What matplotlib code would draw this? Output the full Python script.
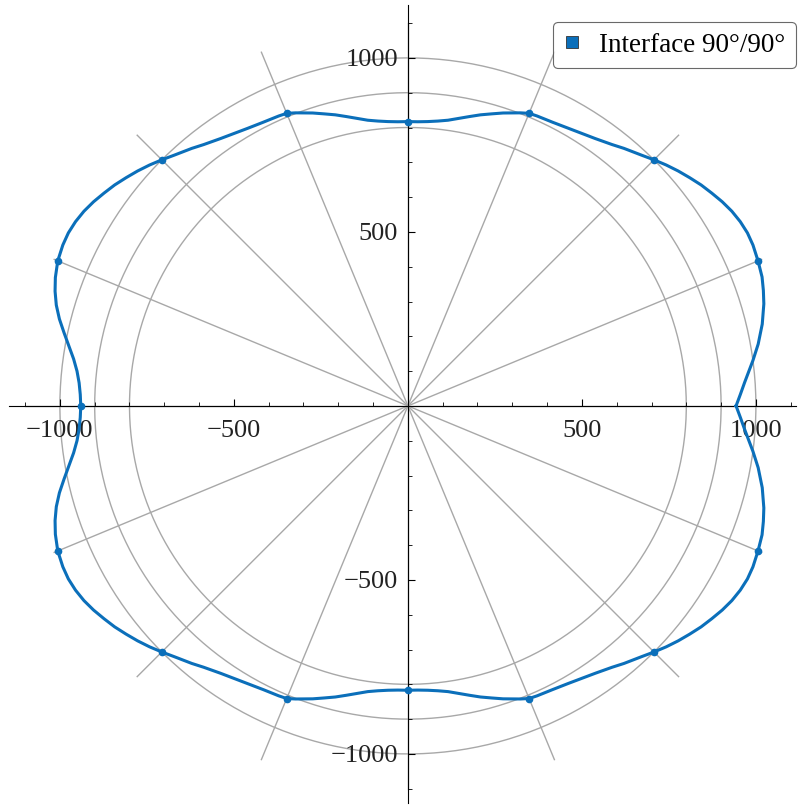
import numpy as np
import matplotlib
matplotlib.use("Agg")
import matplotlib.pyplot as plt
from matplotlib.ticker import MultipleLocator, FixedLocator

plt.rcParams['font.family'] = ['Liberation Serif', 'DejaVu Serif']

# radius read off the picture between 22.5 and 90 degrees
# (the two upper quadrants mirror each other, the lower half mirrors the upper)
quad_deg = [22.5, 25, 27, 29, 31, 33, 35, 37, 39, 41, 43, 45, 47, 50, 52, 55, 58, 60,
            63, 66, 67.5, 69, 70, 72, 74, 76, 78, 80, 82, 84, 86, 88, 90]
quad_r = [1089, 1094, 1095, 1092, 1086, 1077, 1066, 1055, 1042, 1029, 1015, 1000, 985, 966,
          953, 938, 927, 921, 915, 912, 910, 902, 896, 885, 873, 862, 850, 839, 829, 823,
          819, 817, 817]
# near 0 deg the curve has a sharp corner, near 180 deg it is smooth
tip_right_deg = [0, 2, 4, 7.5, 10, 13, 16, 18, 20]
tip_right_r = [943, 956, 970, 1000, 1022, 1045, 1064, 1074, 1083]
tip_left_deg = [0, 2, 4, 6, 8, 10, 12, 14, 16, 18, 20]   # measured from 180 deg
tip_left_r = [940, 942, 947, 956, 970, 989, 1010, 1032, 1051, 1066, 1078]
series_label = "Interface 90°/90°"

grid_radii = [800, 900, 1000]
spoke_step = 22.5
spoke_length = 1100
major_ticks = [-1000, -500, 500, 1000]
tick_text = ['\u22121000', '\u2212500', '500', '1000']

blue = "#0b6fba"
grey = "#a8a8a8"

# upper half, 0 -> 180 deg
qd = np.array(quad_deg, dtype=float)
qr = np.array(quad_r, dtype=float)
up_deg = np.concatenate([tip_right_deg, qd, 180 - qd[::-1][1:], 180 - np.array(tip_left_deg[::-1])])
up_r = np.concatenate([tip_right_r, qr, qr[::-1][1:], tip_left_r[::-1]])
# close with the mirrored lower half
all_deg = np.concatenate([up_deg, -up_deg[::-1][1:]])
all_r = np.concatenate([up_r, up_r[::-1][1:]])
th = np.radians(all_deg)
x = all_r * np.cos(th)
y = all_r * np.sin(th)

# dots at every 22.5 degrees (none at the 0 degree join)
dot_mask = np.array([(a % 22.5 == 0) and a % 360 != 0 for a in all_deg])
_, first = np.unique(np.round(all_deg % 360, 3), return_index=True)
keep = np.zeros_like(dot_mask)
keep[first] = True
dot_mask &= keep

fig = plt.figure(figsize=(7.98, 8.05), dpi=100)
ax = fig.add_axes([8 / 798, 2 / 805, 789 / 798, 798 / 805])

# polar grid
t = np.linspace(0, 2 * np.pi, 400)
for rg in grid_radii:
    ax.plot(rg * np.cos(t), rg * np.sin(t), color=grey, lw=1.0, zorder=1)
for k in range(16):
    a = np.radians(k * spoke_step)
    ax.plot([0, spoke_length * np.cos(a)], [0, spoke_length * np.sin(a)],
            color=grey, lw=1.0, zorder=1)

ax.plot(x, y, color=blue, lw=2.2, zorder=3)
ax.plot(x[dot_mask], y[dot_mask], 'o', color=blue, ms=4.5, zorder=4)
ax.plot([], [], 's', color=blue, ms=9, markeredgecolor='#333333', markeredgewidth=0.6,
        label=series_label)

ax.set_xlim(-1146, 1115)
ax.set_ylim(-1141, 1152)
ax.set_aspect('equal')

for side in ['top', 'right']:
    ax.spines[side].set_visible(False)
ax.spines['left'].set_position(('data', 0))
ax.spines['bottom'].set_position(('data', 0))

ax.xaxis.set_major_locator(FixedLocator(major_ticks))
ax.yaxis.set_major_locator(FixedLocator(major_ticks))
ax.xaxis.set_minor_locator(MultipleLocator(100))
ax.yaxis.set_minor_locator(MultipleLocator(100))
ax.set_xticklabels(tick_text)
ax.set_yticklabels(tick_text)
ax.tick_params(which='major', direction='in', length=5, width=0.8, labelsize=19,
               colors='black', labelcolor='#222222')
ax.tick_params(axis='x', which='major', pad=10)
ax.tick_params(axis='y', which='major', pad=7)
ax.tick_params(which='minor', direction='in', length=3, width=0.6)

leg = ax.legend(loc='upper right', fontsize=19.5, frameon=True, fancybox=True,
                handlelength=0.6, handletextpad=0.7, borderpad=0.4, borderaxespad=0,
                bbox_to_anchor=(1.0, 0.979))
leg.get_frame().set_edgecolor('#444444')
leg.get_frame().set_linewidth(0.8)

fig.savefig("out.png", dpi=100)
